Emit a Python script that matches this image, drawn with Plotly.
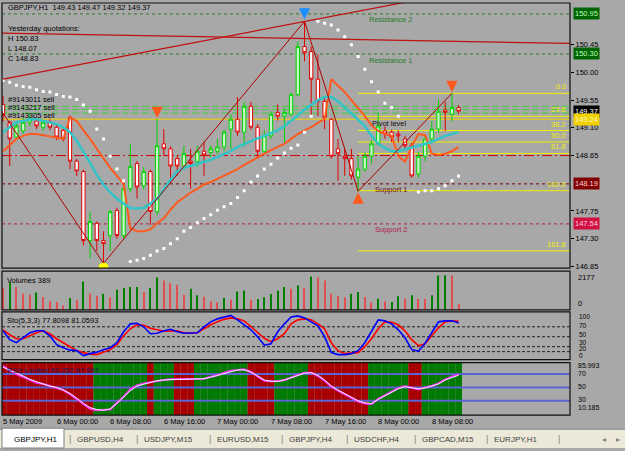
import plotly.graph_objects as go

W, H = 625, 451
def fx(px): return px / W
def fy(py): return 1 - py / H

FONT = "Liberation Sans"
BG = "#a8a8a8"

# ---------------- data (H1 bars, 5 May 16:00 .. 8 May 12:00) ----------------
bars = list(range(69))
opens = [149.48,149.19,148.95,149.05,149.19,149.21,149.11,149.19,149.11,149.06,
         149.27,148.56,148.39,147.27,147.55,147.27,147.35,147.76,147.35,148.11,
         148.52,148.16,148.39,147.74,148.84,148.76,148.60,148.48,148.56,148.55,
         148.72,148.70,148.72,148.79,149.08,149.24,149.03,149.45,149.11,148.72,
         148.97,149.35,149.29,149.32,149.64,150.42,150.34,149.89,149.53,149.24,
         148.76,148.64,148.60,148.30,148.43,148.64,148.84,149.05,149.03,149.00,
         148.92,148.81,148.35,148.64,148.92,149.08,149.39,149.32,149.43]
highs = [149.62,149.21,149.21,149.26,149.35,149.27,149.22,149.24,149.16,149.09,
         149.30,148.60,148.42,147.74,147.58,147.42,147.76,147.80,148.13,148.84,
         148.56,148.46,148.42,149.24,149.08,148.80,148.64,148.81,148.76,148.81,
         148.87,148.82,148.92,149.07,149.32,149.60,149.52,149.52,149.16,149.06,
         149.37,149.48,149.42,149.67,150.50,150.83,150.42,150.29,149.61,149.26,
         148.92,148.76,148.76,148.64,148.70,148.90,149.35,149.12,149.07,149.06,
         148.97,148.86,148.71,148.96,149.21,149.56,149.52,149.66,149.47]
lows = [149.20,148.48,148.90,149.00,149.12,149.08,149.05,149.06,148.90,148.88,
        148.43,148.32,147.19,146.98,147.10,146.90,147.10,147.30,147.30,148.06,
        147.95,148.10,147.52,147.68,148.64,148.22,148.32,148.44,148.11,148.47,
        148.32,148.62,148.67,148.72,148.76,148.97,148.80,149.07,148.62,148.67,
        148.92,149.22,148.85,149.29,149.61,150.18,149.29,149.29,149.08,148.60,
        148.24,148.32,148.26,148.07,148.39,148.52,148.81,148.92,148.87,148.86,
        148.76,148.29,148.29,148.56,148.86,149.02,149.05,149.21,149.32]
closes = [149.30,148.92,149.13,149.19,149.24,149.13,149.19,149.11,148.95,148.92,
          148.56,148.40,147.27,147.58,147.27,147.22,147.74,147.35,148.11,148.47,
          148.14,148.39,147.74,148.81,148.76,148.48,148.48,148.68,148.52,148.72,
          148.66,148.76,148.79,149.03,149.24,149.03,149.45,149.11,148.72,148.97,
          149.32,149.29,149.35,149.64,150.42,150.32,149.89,149.53,149.27,148.64,
          148.68,148.60,148.32,148.43,148.64,148.84,149.13,149.00,148.95,148.97,
          148.81,148.32,148.64,148.92,149.08,149.37,149.35,149.43,149.37]
ma_cyan = [149.03,149.11,149.19,149.21,149.24,149.24,149.21,149.19,149.16,149.11,
           149.03,148.89,148.72,148.53,148.34,148.18,148.05,147.95,147.87,147.80,
           147.79,147.80,147.87,147.95,148.10,148.26,148.39,148.45,148.48,148.52,
           148.55,148.58,148.63,148.68,148.72,148.79,148.84,148.89,148.93,148.97,
           149.02,149.06,149.13,149.21,149.30,149.40,149.48,149.55,149.60,149.60,
           149.53,149.43,149.32,149.22,149.13,148.97,148.84,148.77,148.72,148.72,
           148.75,148.79,148.82,148.84,148.87,148.92,148.97,149.00,149.03]
ma_orange = [148.72,148.82,148.92,148.97,149.00,149.00,148.98,148.95,148.93,148.92,
             149.27,149.21,149.06,148.92,148.76,148.60,148.45,148.32,148.19,147.47,
             147.42,147.42,147.45,147.55,147.63,147.77,147.89,147.97,148.05,148.11,
             148.18,148.22,148.27,148.32,148.37,148.43,148.50,148.56,148.63,148.68,
             148.74,148.79,148.84,148.92,149.00,149.06,149.11,149.18,149.24,149.89,
             149.79,149.68,149.55,149.42,149.29,149.14,149.05,149.00,148.97,148.64,
             148.55,148.80,149.00,148.98,148.68,148.66,148.68,148.72,148.79]
sar = [149.87,149.84,149.79,149.77,149.76,149.72,149.69,149.68,149.64,149.61,
       149.60,149.56,149.47,149.37,149.08,148.92,148.64,148.43,148.24,
       146.93,146.95,146.98,147.03,147.10,147.14,147.22,147.30,147.42,147.48,
       147.56,147.63,147.69,147.76,147.82,147.87,147.97,148.08,148.22,148.32,
       148.43,148.51,148.61,148.69,148.77,148.82,149.03,149.29,
       150.83,150.80,150.77,150.69,150.58,150.45,150.26,150.05,149.85,149.68,149.50,149.43,149.29,
       None,None,
       148.06,148.08,148.08,148.11,148.16,148.24,148.32]
volumes = [1366,1739,1428,1014,952,1097,807,538,497,269,
           745,600,1780,1014,890,1014,787,1263,1366,1428,
           1428,1118,1366,2029,1842,1677,1573,952,1325,911,
           828,538,476,745,642,1159,1221,642,683,787,
           994,1221,1428,1325,1532,1366,2091,2029,1842,1014,
           890,787,1014,1118,807,476,704,538,497,849,
           704,911,683,683,911,2153,2177,2153,389]
vol_dir = list("rgrrrgrrrr" "grgrrgrggg" "grggrrrrgg" "rrrgrggrgg" "gggrgrgrrr" "rrggrrgrgg" "rgrrgggrr")
sto_main = [62,44,38,48,58,62,62,52,34,28, 23,22,12,16,19,24,28,38,60,76,
            77,70,56,57,62,65,60,57,57,58, 70,80,86,90,93,84,74,64,50,33,
            36,60,76,90,92,88,80,72,50,18, 14,14,16,22,38,62,84,82,76,64,
            48,24,21,37,58,80,82,82,77.81]
sto_signal = [64,54,46,46,52,58,62,56,46,38, 30,22,18,15,14,19,24,34,52,66,
              74,73,67,64,61,61,62,58,57,58, 66,74,80,85,88,86,82,70,58,47,
              40,46,56,76,84,86,84,76,66,38, 22,16,17,18,30,46,66,80,79,74,
              62,44,32,36,52,68,80,82,81.06]
rsx_main = [82,75,70,66,61,57,55,52,49,46, 40,33,25,18,16,16,17,27,36,47,
            53,56,58,60,61,62,62,62,62,62, 63,66,68,72,75,76,77,73,66,60,
            59,59,61,65,69,72,72,67,60,51, 45,40,35,29,26,25,33,38,44,49,
            52,50,47,50,52,56,62,66,69.25]
rsx_signal = [80,76,71,67,62,58,55,52,50,46, 41,34,26,20,17,16,18,26,35,45,
              52,55,58,60,61,62,62,62,62,62, 63,65,68,71,74,76,76,73,67,61,
              59,59,61,64,68,71,72,68,61,52, 46,41,36,30,27,26,32,37,43,48,
              51,50,48,49,52,55,61,65,68.0]
rsx_dir = ["d"]*14 + ["u"]*8 + ["d"] + ["u"]*3 + ["d"]*3 + ["u"]*8 + ["d"]*4 + ["u"]*5 + ["d"]*9 + ["u"]*6 + ["d"]*2 + ["u"]*6

price_ticks = [150.45, 150.00, 149.55, 149.10, 148.65, 147.75, 147.30, 146.85]
resistance2, resistance1, pivot, support1, support2 = 150.95, 150.30, 149.24, 148.19, 147.54
daily_line = 148.65
order_levels = [149.45, 149.40, 149.34]
order_labels = ["#9143011 sell", "#9143217 sell", "#9143305 sell"]
fib_high, fib_low, fib_start = 149.66, 148.08, 53
fib_ratios = [0.0, 23.6, 38.2, 50.0, 61.8, 100.0, 161.8]
zigzag_x = [-1, 15, 45, 53, 67]
zigzag_y = [149.50, 146.90, 150.83, 148.07, 149.66]
trend1_x, trend1_y = [0, 84.6], [149.89, 151.65]
trend2_x, trend2_y = [-0.5, 84.6], [150.64, 150.47]
time_ticks = [0, 8, 16, 24, 32, 40, 48, 56, 64]
time_labels = ["5 May 2009", "6 May 00:00", "6 May 08:00", "6 May 16:00", "7 May 00:00",
               "7 May 08:00", "7 May 16:00", "8 May 00:00", "8 May 08:00"]
tabs = ["GBPJPY,H1", "GBPUSD,H4", "USDJPY,M15", "EURUSD,M15", "GBPJPY,H4",
        "USDCHF,H4", "GBPCAD,M15", "EURJPY,H1"]

assert all(len(a) == 69 for a in [opens, highs, lows, closes, ma_cyan, ma_orange, sar, volumes,
                                   vol_dir, sto_main, sto_signal, rsx_main, rsx_signal, rsx_dir])

# ---------------- geometry ----------------
XL, XR = 2, 570
XMIN = -0.15
XMAX = XMIN + (XR - XL) / 6.7
P_TOP, P_BOT = 3, 270
V_TOP, V_BOT = 273, 312
S_TOP, S_BOT = 314, 362
R_TOP, R_BOT = 365, 418
price_rng = [150.95 - (P_BOT - 14) / 62, 150.95 + (14 - P_TOP) / 62]
vol_rng = [0, 2177 * (V_BOT - V_TOP) / (V_BOT - 277)]
sto_rng = [4, 100]
rsx_rng = [8.5, 87.0]

fig = go.Figure()

# main chart
fig.add_trace(go.Candlestick(
    x=bars, open=opens, high=highs, low=lows, close=closes,
    increasing=dict(line=dict(color="#00d400", width=1), fillcolor="#c8f5c8"),
    decreasing=dict(line=dict(color="#e00000", width=1), fillcolor="#ffffff"),
    whiskerwidth=0, showlegend=False, hoverinfo="skip", xaxis="x", yaxis="y"))
fig.add_trace(go.Scatter(x=bars, y=ma_orange, mode="lines", line=dict(color="#ff5a1e", width=2),
                         showlegend=False, hoverinfo="skip", xaxis="x", yaxis="y"))
fig.add_trace(go.Scatter(x=bars, y=ma_cyan, mode="lines", line=dict(color="#33c4c8", width=2.5),
                         showlegend=False, hoverinfo="skip", xaxis="x", yaxis="y"))
fig.add_trace(go.Scatter(x=bars, y=sar, mode="markers",
                         marker=dict(symbol="square", size=3, color="white"),
                         showlegend=False, hoverinfo="skip", xaxis="x", yaxis="y"))
fig.add_trace(go.Scatter(x=zigzag_x, y=zigzag_y, mode="lines", line=dict(color="#b00000", width=1),
                         showlegend=False, hoverinfo="skip", xaxis="x", yaxis="y"))
for tx, ty in [(trend1_x, trend1_y), (trend2_x, trend2_y)]:
    fig.add_trace(go.Scatter(x=tx, y=ty, mode="lines", line=dict(color="#c01010", width=1.2),
                             showlegend=False, hoverinfo="skip", xaxis="x", yaxis="y"))
fig.add_trace(go.Scatter(x=[15], y=[lows[15] - 0.07], mode="markers",
                         marker=dict(symbol="circle", size=10, color="#ffff00"),
                         showlegend=False, hoverinfo="skip", xaxis="x", yaxis="y"))

# volumes
vcol = {"g": "#008000", "r": "#e05050"}
fig.add_trace(go.Bar(x=bars, y=volumes, marker=dict(color=[vcol[c] for c in vol_dir], line=dict(width=0)),
                     width=0.17, showlegend=False, hoverinfo="skip", xaxis="x", yaxis="y2"))

# stochastic
for lv in [70, 50, 30, 20]:
    fig.add_trace(go.Scatter(x=[XMIN, XMAX], y=[lv, lv], mode="lines",
                             line=dict(color="#202020", width=1, dash="3px,2px"),
                             showlegend=False, hoverinfo="skip", xaxis="x", yaxis="y3"))
fig.add_trace(go.Scatter(x=bars, y=sto_signal, mode="lines", line=dict(color="#ff0000", width=1.6),
                         showlegend=False, hoverinfo="skip", xaxis="x", yaxis="y3"))
fig.add_trace(go.Scatter(x=bars, y=sto_main, mode="lines", line=dict(color="#0000ff", width=1.6),
                         showlegend=False, hoverinfo="skip", xaxis="x", yaxis="y3"))

# RSX
rcol = {"u": "#007a00", "d": "#a80000"}
fig.add_trace(go.Bar(x=bars, y=[rsx_rng[1] - rsx_rng[0]] * len(bars), base=rsx_rng[0],
                     marker=dict(color=[rcol[c] for c in rsx_dir], line=dict(width=0)),
                     width=1.0, showlegend=False, hoverinfo="skip", xaxis="x", yaxis="y4"))
for lv in [70, 50, 30]:
    fig.add_trace(go.Scatter(x=[XMIN, XMAX], y=[lv, lv], mode="lines",
                             line=dict(color="#5a64d0", width=2),
                             showlegend=False, hoverinfo="skip", xaxis="x", yaxis="y4"))
fig.add_trace(go.Scatter(x=bars, y=rsx_main, mode="lines", line=dict(color="#ff30ff", width=2),
                         showlegend=False, hoverinfo="skip", xaxis="x", yaxis="y4"))
fig.add_trace(go.Scatter(x=bars, y=rsx_signal, mode="lines", line=dict(color="#e8f0ff", width=1),
                         showlegend=False, hoverinfo="skip", xaxis="x", yaxis="y4"))

shapes = []
def hline(y, color, dash="solid", width=1, x0=None, layer="below"):
    shapes.append(dict(type="line", xref="x" if x0 is not None else "paper",
                       x0=x0 if x0 is not None else fx(XL), x1=XMAX if x0 is not None else fx(XR),
                       yref="y", y0=y, y1=y, layer=layer,
                       line=dict(color=color, width=width, dash=dash)))

hline(resistance2, "#2c7a2c", "3px,3px")
hline(resistance1, "#2c7a2c", "3px,3px")
for lv in order_levels:
    hline(lv, "#40d040", "7px,3px")
hline(pivot, "#f0d000", "solid")
hline(daily_line, "#d00000", "10px,3px,2px,3px")
hline(support1, "#800000", "3px,3px")
hline(support2, "#b02040", "3px,3px")
fib_levels = [fib_high - r / 100 * (fib_high - fib_low) for r in fib_ratios]
for lv in fib_levels:
    hline(lv, "#f0f000", "solid", 1, x0=fib_start)

# panel frames
for t, b in [(P_TOP, P_BOT), (V_TOP, V_BOT), (S_TOP, S_BOT), (R_TOP, R_BOT)]:
    shapes.append(dict(type="rect", xref="paper", yref="paper", x0=fx(XL), x1=fx(XR),
                       y0=fy(b), y1=fy(t), line=dict(color="#101010", width=1.2),
                       fillcolor="rgba(0,0,0,0)", layer="above"))
# tab bar
shapes.append(dict(type="rect", xref="paper", yref="paper", x0=0, x1=1, y0=0, y1=fy(432),
                   line=dict(width=0), fillcolor="#ece9d8", layer="above"))
shapes.append(dict(type="line", xref="paper", yref="paper", x0=0, x1=1, y0=fy(432), y1=fy(432),
                   line=dict(color="#808080", width=1), layer="above"))
shapes.append(dict(type="rect", xref="paper", yref="paper", x0=fx(2), x1=fx(64), y0=fy(451), y1=fy(431),
                   line=dict(color="#808080", width=1), fillcolor="#ffffff", layer="above"))

ann = []
def text(x, y, s, color="black", size=7.5, anchor="left", bg=None, yref="paper", xref="paper"):
    d = dict(x=x, y=y, xref=xref, yref=yref, text=s, showarrow=False, xanchor=anchor,
             yanchor="middle", font=dict(family=FONT, size=size, color=color))
    if bg:
        d.update(bgcolor=bg, borderpad=1)
    ann.append(d)

text(fx(6), fy(8), "GBPJPY,H1  %.2f %.2f %.2f %.2f" % (opens[-1], highs[-1], lows[-1], closes[-1]))
text(fx(6), fy(29), "Yesterday quotations:")
text(fx(6), fy(39), "H 150.83")
text(fx(6), fy(49), "L 148.07")
text(fx(6), fy(59), "C 148.83")
for i, s in enumerate(order_labels):
    text(fx(6), fy(100 + 8 * i), s)
text(fx(367), fy(20), "Resistance 2", color="#1f7a1f")
text(fx(367), fy(61), "Resistance 1", color="#1f7a1f")
text(fx(370), fy(124), "Pivot level", color="#101010")
text(fx(373), fy(191), "Support 1", color="#701010")
text(fx(373), fy(231), "Support 2", color="#b02050")
for r, lv in zip(fib_ratios, fib_levels):
    ann.append(dict(x=fx(568), y=lv, xref="paper", yref="y", text="%.1f" % r, showarrow=False,
                    xanchor="right", yanchor="bottom", font=dict(family=FONT, size=7.5, color="#f0f000")))

# price boxes
for val, bg, fc in [(resistance2, "#006400", "#b8ffb8"), (resistance1, "#006400", "#b8ffb8"),
                    (closes[-1], "#000000", "#ffffff"), (pivot, "#f0d000", "#fff8c0"),
                    (support1, "#800000", "#ffd0d0"), (support2, "#d01040", "#ffd0e0")]:
    ann.append(dict(x=fx(573), y=val, xref="paper", yref="y", text="%.2f" % val, showarrow=False,
                    xanchor="left", yanchor="middle", bgcolor=bg, borderpad=1,
                    font=dict(family=FONT, size=7.5, color=fc)))

# arrows (signal marks)
for (bx, by, ay, col) in [(45, 150.86, -13, "#1e8fff"), (23, 149.26, -12, "#ff5a1e"),
                          (67, 149.68, -12, "#ff5a1e"), (53, 148.05, 12, "#ff5a1e")]:
    ann.append(dict(x=bx, y=by, xref="x", yref="y", text="", showarrow=True, ax=0, ay=ay,
                    arrowhead=2, arrowsize=0.75, arrowwidth=3, arrowcolor=col))

# sub-panel labels
text(fx(5), fy(282), "Volumes %d" % volumes[-1])
text(fx(576), fy(279), "2177")
text(fx(576), fy(306), "0")
text(fx(5), fy(323), "Sto(5,3,3) 77.8098 81.0593")
for s, yy in [("100", 319), ("70", 327.5), ("50", 336.5), ("30", 344.5), ("20", 351), ("0", 357.5)]:
    text(fx(577), fy(yy), s, size=6.5)
text(fx(5), fy(373), "RSX Limited 69.252 67.997", color="#202060")
for s, yy in [("85.993", 368), ("70", 376), ("50", 389), ("30", 402), ("10.185", 410.5)]:
    text(fx(576), fy(yy), s, size=7)

for b, s in zip(time_ticks, time_labels):
    ann.append(dict(x=b, y=fy(424), xref="x", yref="paper", text=s, showarrow=False, xanchor="left",
                    xshift=-2, yanchor="middle", font=dict(family=FONT, size=7.5, color="black")))

tab_x = [12, 75, 142, 215, 287, 352, 420, 492]
for i, (s, tx) in enumerate(zip(tabs, tab_x)):
    text(fx(tx), fy(442), s, color="#000000" if i == 0 else "#404040", size=8)
    if i > 0:
        text(fx(tx - 8), fy(442), "|", color="#808080", size=9)
text(fx(556), fy(442), "|", color="#808080", size=9)
text(fx(600), fy(442), "◂", color="#808080", size=8)
text(fx(614), fy(442), "▸", color="#808080", size=8)

fig.update_layout(
    width=W, height=H, margin=dict(l=0, r=0, t=0, b=0),
    paper_bgcolor=BG, plot_bgcolor=BG, showlegend=False,
    shapes=shapes, annotations=ann, barmode="overlay",
    xaxis=dict(domain=[fx(XL), fx(XR)], range=[XMIN, XMAX], anchor="y", showticklabels=False,
               showgrid=False, zeroline=False, showline=False, ticks="", rangeslider=dict(visible=False)),
    yaxis=dict(domain=[fy(P_BOT), fy(P_TOP)], range=price_rng, side="right", anchor="x",
               tickvals=price_ticks, ticktext=["%.2f" % v for v in price_ticks],
               ticks="outside", ticklen=3, tickcolor="black", showgrid=False, zeroline=False,
               tickfont=dict(family=FONT, size=7.5, color="black")),
    yaxis2=dict(domain=[fy(V_BOT), fy(V_TOP)], range=vol_rng, anchor="x", showticklabels=False,
                showgrid=False, zeroline=False),
    yaxis3=dict(domain=[fy(S_BOT), fy(S_TOP)], range=sto_rng, anchor="x", showticklabels=False,
                showgrid=False, zeroline=False),
    yaxis4=dict(domain=[fy(R_BOT), fy(R_TOP)], range=rsx_rng, anchor="x", showticklabels=False,
                showgrid=False, zeroline=False),
)
fig.write_html("out.html")
